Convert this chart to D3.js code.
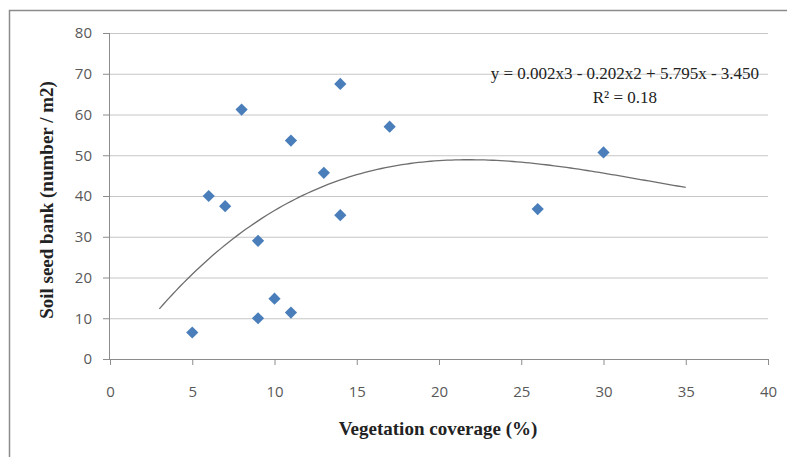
<!DOCTYPE html>
<html>
<head>
<meta charset="utf-8">
<script src="https://cdn.jsdelivr.net/npm/d3@7/dist/d3.min.js"></script>
<style>
  body { margin: 0; background: #fff; }
  .tick text { font-family: "Open Sans", "Noto Sans", sans-serif; font-size: 15px; fill: #595959; }
  .axis-title { font-family: "Liberation Serif", "Times New Roman", serif; font-weight: bold; font-size: 19px; fill: #222; }
  .eq { font-family: "Liberation Serif", "Times New Roman", serif; font-size: 17px; fill: #222; }
</style>
</head>
<body>
<div id="chart"></div>
<script>
// scatter data
const coverage = [5, 6, 7, 8, 9, 9, 10, 11, 11, 13, 14, 14, 17, 26, 30];
const seedBank = [6.5, 40, 37.5, 61.2, 29, 10, 14.8, 11.4, 53.6, 45.7, 35.3, 67.5, 57, 36.8, 50.7];
const xTicks = [0, 5, 10, 15, 20, 25, 30, 35, 40];
const yTicks = [0, 10, 20, 30, 40, 50, 60, 70, 80];
const trendRange = [3, 35];
const eqLabel = "y = 0.002x3 - 0.202x2 + 5.795x - 3.450";

const W = 787, H = 457;
const margin = { top: 33, right: 19, bottom: 98, left: 110 };
const width = W - margin.left - margin.right;
const height = H - margin.top - margin.bottom;

const svg = d3.select("#chart").append("svg")
    .attr("width", W).attr("height", H);

// outer chart border (right/bottom edges run off the picture)
svg.append("rect")
    .attr("x", 9.5).attr("y", 10.5)
    .attr("width", W + 20).attr("height", H + 20)
    .attr("fill", "none").attr("stroke", "#8c8c8c").attr("stroke-width", 1.5);

const g = svg.append("g").attr("transform", `translate(${margin.left},${margin.top})`);

const x = d3.scaleLinear().domain([0, 40]).range([0, width]);
const y = d3.scaleLinear().domain([0, 80]).range([height, 0]);

// gridlines
g.selectAll(".grid").data(yTicks.slice(1)).enter().append("line")
    .attr("x1", 0).attr("x2", width)
    .attr("y1", d => y(d) + 0.5).attr("y2", d => y(d) + 0.5)
    .attr("stroke", "#c6c6c6").attr("stroke-width", 1);

// axes
const yAxis = g.append("g").call(d3.axisLeft(y).tickValues(yTicks).tickSize(7).tickPadding(11));
const xAxis = g.append("g").attr("transform", `translate(0,${height})`)
    .call(d3.axisBottom(x).tickValues(xTicks).tickSize(6).tickPadding(21));
[yAxis, xAxis].forEach(a => {
  a.select(".domain").attr("stroke", "#8c8c8c");
  a.selectAll(".tick line").attr("stroke", "#8c8c8c");
});
yAxis.select(".domain").attr("d", `M-0.5,0V${height}`);
xAxis.select(".domain").attr("d", `M0,0.5H${width}`);

// cubic least-squares trendline fitted to the data
function polyFit(xs, ys, deg) {
  const n = deg + 1;
  const A = Array.from({ length: n }, () => new Array(n + 1).fill(0));
  xs.forEach((xv, k) => {
    for (let i = 0; i < n; i++) {
      for (let j = 0; j < n; j++) A[i][j] += Math.pow(xv, i + j);
      A[i][n] += Math.pow(xv, i) * ys[k];
    }
  });
  for (let i = 0; i < n; i++) {
    let p = i;
    for (let r = i + 1; r < n; r++) if (Math.abs(A[r][i]) > Math.abs(A[p][i])) p = r;
    [A[i], A[p]] = [A[p], A[i]];
    for (let r = 0; r < n; r++) {
      if (r === i) continue;
      const f = A[r][i] / A[i][i];
      for (let c = i; c <= n; c++) A[r][c] -= f * A[i][c];
    }
  }
  return A.map((row, i) => row[n] / row[i]);
}
const coef = polyFit(coverage, seedBank, 3);
const fit = v => coef.reduce((s, c, i) => s + c * Math.pow(v, i), 0);
const trendPts = d3.range(trendRange[0], trendRange[1] + 0.01, 0.25);

g.append("path")
    .datum(trendPts)
    .attr("fill", "none").attr("stroke", "#6e6e6e").attr("stroke-width", 1.3)
    .attr("d", d3.line().x(d => x(d)).y(d => y(fit(d))));

// diamond markers
const diamond = d3.symbol().type(d3.symbolDiamond2).size(95);
g.selectAll(".pt").data(coverage).enter().append("path")
    .attr("transform", (d, i) => `translate(${x(d)},${y(seedBank[i])})`)
    .attr("d", diamond)
    .attr("fill", "#4a7ebb");

// equation label
g.append("text").attr("class", "eq")
    .attr("x", x(31.3)).attr("y", y(68.6)).attr("text-anchor", "middle")
    .text(eqLabel);
g.append("text").attr("class", "eq")
    .attr("x", x(31.3)).attr("y", y(62.9)).attr("text-anchor", "middle")
    .text("R² = 0.18");

// axis titles
svg.append("text").attr("class", "axis-title")
    .attr("x", 438).attr("y", 435)
    .attr("text-anchor", "middle")
    .text("Vegetation coverage (%)");
svg.append("text").attr("class", "axis-title")
    .attr("transform", `translate(53,${margin.top + height / 2 + 4}) rotate(-90)`)
    .attr("text-anchor", "middle")
    .text("Soil seed bank (number / m2)");
</script>
</body>
</html>
